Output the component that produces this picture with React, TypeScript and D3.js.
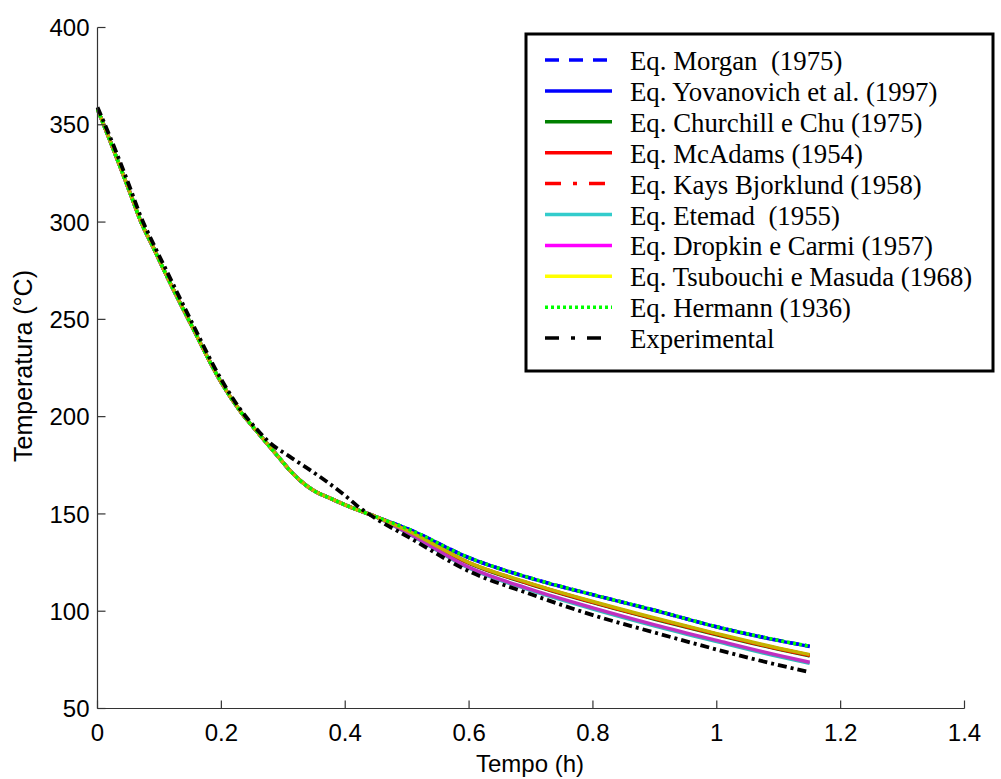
import React from "react";
import * as d3 from "d3";

// ---------- data ----------
const tempoModel = [0, 0.02, 0.037, 0.055, 0.069, 0.09, 0.113, 0.15, 0.2, 0.23, 0.263, 0.2955, 0.3116, 0.328, 0.349, 0.376, 0.4085, 0.45, 0.5, 0.6, 0.7, 0.8, 0.9, 1.0, 1.1, 1.15];
const headModel = [358, 342, 328, 313, 301, 287, 271.5, 248, 217.5, 203, 190.3, 178, 172, 167, 162, 158, 153.5, 148.5];

const morgan = [...headModel, 142.5, 127.5, 117.0, 108.5, 100.5, 92.0, 85.0, 82.0];
const yovanovich = [...headModel, 142.4, 127.4, 116.9, 108.4, 100.4, 91.9, 84.9, 81.9];
const churchill = [...headModel, 141.2, 124.6, 113.7, 104.4, 95.9, 87.9, 80.4, 77.0];
const mcadams = [...headModel, 141.4, 124.9, 114.0, 104.7, 96.2, 88.2, 80.7, 77.4];
const kays = [...headModel, 141.4, 124.9, 114.0, 104.7, 96.2, 88.2, 80.7, 77.4];
const etemad = [...headModel, 140.2, 122.1, 110.7, 101.1, 92.4, 84.4, 76.7, 73.2];
const dropkin = [...headModel, 140.5, 122.5, 111.2, 101.7, 93.0, 85.0, 77.3, 73.8];
const tsubouchi = [...headModel, 141.5, 125.0, 114.2, 105.0, 96.5, 88.5, 81.0, 77.7];
const hermann = [...headModel, 142.5, 127.5, 117.0, 108.5, 100.5, 92.0, 85.0, 82.0];

const tempoExp = [0, 0.02, 0.037, 0.055, 0.069, 0.09, 0.113, 0.15, 0.2, 0.23, 0.263, 0.274, 0.3116, 0.344, 0.371, 0.403, 0.42, 0.45, 0.5, 0.6, 0.7, 0.8, 0.9, 1.0, 1.1, 1.15];
const experimental = [359, 344, 330.5, 315.5, 303.5, 289, 274, 250, 219, 204, 191.5, 187.8, 179.2, 172.4, 166.4, 158.6, 154, 147.5, 138.5, 120.5, 108.7, 98, 89, 80.3, 72.3, 68.7];

const legendLabels = [
  "Eq. Morgan  (1975)",
  "Eq. Yovanovich et al. (1997)",
  "Eq. Churchill e Chu (1975)",
  "Eq. McAdams (1954)",
  "Eq. Kays Bjorklund (1958)",
  "Eq. Etemad  (1955)",
  "Eq. Dropkin e Carmi (1957)",
  "Eq. Tsubouchi e Masuda (1968)",
  "Eq. Hermann (1936)",
  "Experimental",
];

const xTicks = [0, 0.2, 0.4, 0.6, 0.8, 1, 1.2, 1.4];
const yTicks = [50, 100, 150, 200, 250, 300, 350, 400];

// ---------- styles ----------
type Style = { color: string; plotColor: string; plotDash: string; legendDash: string };
const styles: Style[] = [
  { color: "#0000ff", plotColor: "#0000ff", plotDash: "10,6", legendDash: "14,10" },
  { color: "#0000ff", plotColor: "#0000ff", plotDash: "", legendDash: "" },
  { color: "#008000", plotColor: "#008000", plotDash: "", legendDash: "" },
  { color: "#ff0000", plotColor: "#ff0000", plotDash: "", legendDash: "" },
  { color: "#ff0000", plotColor: "#ff0000", plotDash: "10,4,3,4", legendDash: "16,12,4,12" },
  { color: "#33cccc", plotColor: "#33bbbb", plotDash: "", legendDash: "" },
  { color: "#ff00ff", plotColor: "#c030c0", plotDash: "", legendDash: "" },
  { color: "#ffff00", plotColor: "#c4b200", plotDash: "", legendDash: "" },
  { color: "#00ff00", plotColor: "#00ff00", plotDash: "3,3", legendDash: "3,3" },
  { color: "#000000", plotColor: "#000000", plotDash: "9,4,3,4", legendDash: "14,12,4,12" },
];

const seriesValues = [morgan, yovanovich, churchill, mcadams, kays, etemad, dropkin, tsubouchi, hermann, experimental];
const seriesTimes = [tempoModel, tempoModel, tempoModel, tempoModel, tempoModel, tempoModel, tempoModel, tempoModel, tempoModel, tempoExp];

export default function App() {
  const W = 1001, H = 779;
  const x = d3.scaleLinear().domain([0, 1.4]).range([97.5, 964.5]);
  const y = d3.scaleLinear().domain([50, 400]).range([708.5, 27.5]);
  const line = d3
    .line<[number, number]>()
    .x((d) => x(d[0]))
    .y((d) => y(d[1]))
    .curve(d3.curveMonotoneX);

  const axisColor = "#333";
  const sans = "'Liberation Sans', Arial, Helvetica, sans-serif";
  const serif = "'Liberation Serif', 'Times New Roman', serif";

  const legX = 526, legY = 34, legW = 467, legH = 337;
  const rowY0 = 60, rowStep = 30.9;

  return (
    <svg width={W} height={H} style={{ position: "absolute", left: 0, top: 0, background: "#fff" }}>
      <rect x={0} y={0} width={W} height={H} fill="#fff" />
      {seriesValues.map((vals, i) => {
        const pts = vals.map((v, k) => [seriesTimes[i][k], v] as [number, number]);
        const s = styles[i];
        return (
          <path
            key={i}
            d={line(pts) || ""}
            fill="none"
            stroke={s.plotColor}
            strokeWidth={i === 9 ? 3.8 : 3.5}
            strokeDasharray={s.plotDash || undefined}
            strokeLinecap="butt"
            strokeLinejoin="round"
          />
        );
      })}
      <line x1={x(0)} x2={x(0)} y1={y(400)} y2={y(50)} stroke={axisColor} strokeWidth={1.2} />
      <line x1={x(0)} x2={x(1.4)} y1={y(50)} y2={y(50)} stroke={axisColor} strokeWidth={1.2} />
      {yTicks.map((t) => (
        <g key={"y" + t}>
          <line x1={x(0)} x2={x(0) + 8} y1={y(t)} y2={y(t)} stroke={axisColor} strokeWidth={1.2} />
          <text x={x(0) - 8} y={y(t)} dy="0.36em" textAnchor="end" fontFamily={sans} fontSize={24} fill="#000">
            {t}
          </text>
        </g>
      ))}
      {xTicks.map((t) => (
        <g key={"x" + t}>
          <line x1={x(t)} x2={x(t)} y1={y(50)} y2={y(50) - 8} stroke={axisColor} strokeWidth={1.2} />
          <text x={x(t)} y={741} textAnchor="middle" fontFamily={sans} fontSize={24} fill="#000">
            {String(t)}
          </text>
        </g>
      ))}
      <text x={530} y={772} textAnchor="middle" fontFamily={sans} fontSize={24} fill="#000">
        Tempo (h)
      </text>
      <text transform={`translate(32,366) rotate(-90)`} textAnchor="middle" fontFamily={sans} fontSize={25} fill="#000">
        Temperatura (°C)
      </text>
      <rect x={legX} y={legY} width={legW} height={legH} fill="#fff" stroke="#000" strokeWidth={3} />
      {legendLabels.map((lab, i) => {
        const cy = rowY0 + i * rowStep;
        const s = styles[i];
        return (
          <g key={"l" + i}>
            <line x1={545} x2={612} y1={cy} y2={cy} stroke={s.color} strokeWidth={3.5} strokeDasharray={s.legendDash || undefined} />
            <text x={630} y={cy + 10} fontFamily={serif} fontSize={26.8} fill="#000" style={{ whiteSpace: "pre" }}>
              {lab}
            </text>
          </g>
        );
      })}
    </svg>
  );
}
